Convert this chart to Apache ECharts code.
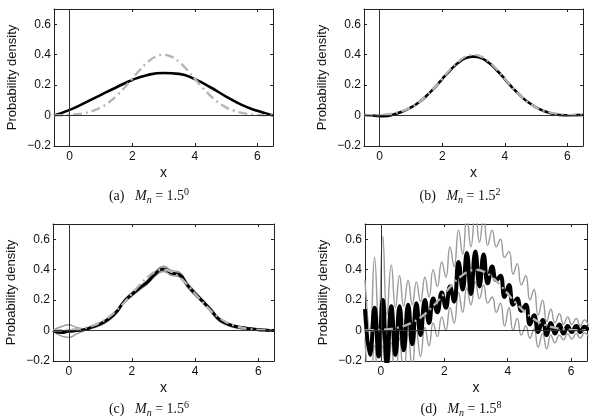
<!DOCTYPE html>
<html>
<head>
<meta charset="utf-8">
<script src="https://cdn.jsdelivr.net/npm/echarts@6/dist/echarts.min.js"></script>
<style>
  html, body { margin: 0; padding: 0; background: #fff; }
  #chart { width: 591px; height: 418px; }
</style>
</head>
<body>
<div id="chart"></div>
<script>
// tick labels
const xTicks = [0, 2, 4, 6];
const yTicks = [-0.2, 0, 0.2, 0.4, 0.6];

// x grids
const xCoarse = [-0.5, 0, 0.5, 1, 1.5, 2, 2.5, 3, 3.5, 4, 4.5, 5, 5.5, 6, 6.5];
const xFine = [-0.5, -0.25, 0, 0.25, 0.5, 0.75, 1, 1.25, 1.5, 1.75, 2, 2.25, 2.5, 2.75, 3,
  3.25, 3.5, 3.75, 4, 4.25, 4.5, 4.75, 5, 5.25, 5.5, 5.75, 6, 6.25, 6.5];
const xOsc = [-0.5, -0.34, -0.2, -0.07, 0.06, 0.19, 0.33, 0.46, 0.59, 0.72,
  0.86, 0.99, 1.12, 1.25, 1.39, 1.52, 1.65, 1.78, 1.92, 2.05,
  2.18, 2.31, 2.45, 2.58, 2.71, 2.84, 2.98, 3.11, 3.24, 3.37,
  3.51, 3.64, 3.77, 3.9, 4.04, 4.17, 4.3, 4.43, 4.57, 4.7,
  4.83, 4.96, 5.1, 5.23, 5.36, 5.49, 5.63, 5.76, 5.89, 6.02,
  6.16, 6.29, 6.42, 6.55];

// true density (gray dash-dot, on xFine)
const trueDensity = [0.0009, 0.002, 0.0044, 0.009, 0.0175, 0.032, 0.054, 0.086, 0.13, 0.183,
  0.242, 0.301, 0.352, 0.387, 0.399, 0.387, 0.352, 0.301, 0.242, 0.183,
  0.13, 0.086, 0.054, 0.032, 0.0175, 0.009, 0.0044, 0.002, 0.0009];

// (a) M_n = 1.5^0, on xCoarse
const aEstimate = [0, 0.037, 0.085, 0.136, 0.186, 0.234, 0.267, 0.28, 0.274, 0.239, 0.186, 0.125, 0.07, 0.031, 0];

// (b) M_n = 1.5^2, on xFine
const bEstimate = [0.004, 0.001, -0.004, -0.002, 0.01, 0.028, 0.053, 0.086, 0.13, 0.182,
  0.24, 0.296, 0.345, 0.377, 0.387, 0.377, 0.345, 0.296, 0.24, 0.182,
  0.13, 0.087, 0.054, 0.03, 0.013, 0.004, 0.002, 0.003, 0.004];

// (c) M_n = 1.5^6, on xFine
const cEstimate = [0, -0.013, -0.005, 0, 0.006, 0.024, 0.043, 0.074, 0.12, 0.19,
  0.238, 0.28, 0.32, 0.375, 0.405, 0.378, 0.368, 0.3, 0.243, 0.19,
  0.135, 0.075, 0.045, 0.028, 0.018, 0.012, 0.006, 0.002, 0];
const cUpper = [0.003, 0.025, 0.038, 0.02, 0.012, 0.032, 0.052, 0.084, 0.13, 0.2,
  0.25, 0.292, 0.333, 0.39, 0.422, 0.395, 0.384, 0.314, 0.256, 0.2,
  0.146, 0.085, 0.054, 0.036, 0.025, 0.018, 0.012, 0.007, 0.005];
const cLower = [-0.005, -0.035, -0.045, -0.022, 0, 0.016, 0.034, 0.064, 0.11, 0.18,
  0.226, 0.268, 0.307, 0.36, 0.388, 0.362, 0.352, 0.286, 0.23, 0.18,
  0.124, 0.065, 0.036, 0.02, 0.011, 0.006, 0, -0.003, -0.005];

// (d) M_n = 1.5^8, on xOsc
const dEstimate = [0.14, -0.16, 0.15, -0.17, 0.2, -0.22, 0.16, -0.16, 0.16, -0.13,
  0.17, -0.09, 0.18, -0.03, 0.2, 0.05, 0.21, 0.12, 0.25, 0.15,
  0.29, 0.19, 0.45, 0.27, 0.51, 0.24, 0.52, 0.29, 0.5, 0.31,
  0.42, 0.33, 0.36, 0.22, 0.3, 0.17, 0.21, 0.13, 0.17, 0.04,
  0.1, -0.01, 0.07, -0.03, 0.05, -0.02, 0.04, -0.02, 0.03, -0.01,
  0.03, -0.01, 0.025, 0];
const dUpper = [0.33, 0, 0.48, 0.02, 0.62, 0.1, 0.43, 0.15, 0.36, 0.16,
  0.33, 0.17, 0.32, 0.19, 0.35, 0.22, 0.4, 0.29, 0.45, 0.35,
  0.55, 0.42, 0.66, 0.5, 0.75, 0.55, 0.78, 0.58, 0.75, 0.56,
  0.66, 0.55, 0.6, 0.48, 0.52, 0.37, 0.44, 0.3, 0.36, 0.2,
  0.27, 0.1, 0.2, 0.06, 0.14, 0.05, 0.11, 0.04, 0.09, 0.04,
  0.08, 0.03, 0.07, 0.03];
const dLower = [-0.05, -0.4, -0.1, -0.45, -0.1, -0.5, -0.08, -0.38, -0.05, -0.3,
  -0.02, -0.25, 0, -0.17, 0.02, -0.1, 0.05, -0.04, 0.09, 0,
  0.15, 0.05, 0.25, 0.12, 0.28, 0.17, 0.32, 0.21, 0.3, 0.18,
  0.22, 0.12, 0.18, 0.03, 0.15, 0, 0.08, -0.03, 0.03, -0.05,
  0.01, -0.11, -0.02, -0.12, -0.03, -0.08, -0.03, -0.06, -0.02, -0.055,
  -0.02, -0.05, -0.015, -0.04];

const captions = ['(a)', '(b)', '(c)', '(d)'];
const exponents = ['0', '2', '6', '8'];

const zip = (xs, ys) => xs.map((x, i) => [x, ys[i]]);

const chart = echarts.init(document.getElementById('chart'));

const grids = [
  { left: 54, top: 9, width: 219, height: 137 },
  { left: 364, top: 9, width: 219, height: 137 },
  { left: 53, top: 224, width: 221, height: 137 },
  { left: 365, top: 224, width: 222, height: 137 }
];
const captionPos = [[149, 196], [460, 196], [149, 409], [461, 409]];

const sans = 'Liberation Sans';
const axisColor = '#222';

const xAxes = [];
const yAxes = [];
grids.forEach((g, i) => {
  ['bottom', 'top'].forEach((pos) => {
    xAxes.push({
      gridIndex: i,
      type: 'value',
      position: pos,
      min: -0.5,
      max: 6.5,
      axisLine: { onZero: false, lineStyle: { color: axisColor, width: 1 } },
      axisTick: { inside: true, length: 3, customValues: xTicks, lineStyle: { color: axisColor } },
      axisLabel: {
        show: pos === 'bottom',
        customValues: xTicks,
        margin: 5,
        fontSize: 12,
        fontFamily: sans,
        color: '#111'
      },
      splitLine: { show: false },
      name: pos === 'bottom' ? 'x' : '',
      nameLocation: 'middle',
      nameGap: 20,
      nameTextStyle: { fontSize: 14, fontFamily: sans, color: '#111' }
    });
  });
  ['left', 'right'].forEach((pos) => {
    yAxes.push({
      gridIndex: i,
      type: 'value',
      position: pos,
      min: -0.2,
      max: 0.7,
      axisLine: { onZero: false, lineStyle: { color: axisColor, width: 1 } },
      axisTick: { inside: true, length: 3, customValues: yTicks, lineStyle: { color: axisColor } },
      axisLabel: {
        show: pos === 'left',
        customValues: yTicks,
        margin: 3,
        fontSize: 12,
        fontFamily: sans,
        color: '#111',
        formatter: (v) => (Math.abs(v) < 1e-9 ? '0' : (v < 0 ? '\u2212' : '') + Math.abs(v).toFixed(1))
      },
      splitLine: { show: false },
      name: pos === 'left' ? 'Probability density' : '',
      nameLocation: 'middle',
      nameRotate: 90,
      nameGap: 35,
      nameTextStyle: { fontSize: 13, fontFamily: sans, color: '#111' }
    });
  });
});

const panelLines = [
  { est: zip(xCoarse, aEstimate), width: 2.6 },
  { est: zip(xFine, bEstimate), width: 2.6 },
  { est: zip(xFine, cEstimate), width: 3, up: zip(xFine, cUpper), lo: zip(xFine, cLower) },
  { est: zip(xOsc, dEstimate), width: 4, up: zip(xOsc, dUpper), lo: zip(xOsc, dLower) }
];

const series = [];
panelLines.forEach((p, i) => {
  const ax = { xAxisIndex: i * 2, yAxisIndex: i * 2 };
  // zero lines
  series.push(Object.assign({
    type: 'line',
    data: [],
    z: 1,
    silent: true,
    markLine: {
      silent: true,
      symbol: ['none', 'none'],
      label: { show: false },
      lineStyle: { color: '#333', width: 1, type: 'solid' },
      emphasis: { disabled: true },
      data: [{ yAxis: 0 }, { xAxis: 0 }]
    }
  }, ax));
  if (p.up) {
    [p.up, p.lo].forEach((d) => {
      series.push(Object.assign({
        type: 'line',
        data: d,
        showSymbol: false,
        smooth: 0.5,
        lineStyle: { color: '#9a9a9a', width: 1.4 },
        z: 2
      }, ax));
    });
  }
  series.push(Object.assign({
    type: 'line',
    data: p.est,
    showSymbol: false,
    smooth: 0.5,
    lineStyle: { color: '#000', width: p.width },
    z: 3
  }, ax));
  series.push(Object.assign({
    type: 'line',
    data: zip(xFine, trueDensity),
    showSymbol: false,
    smooth: 0.5,
    lineStyle: { color: '#b5b5b5', width: 2.4, type: [9, 4, 2, 4] },
    z: 4
  }, ax));
});

const graphic = captions.map((c, i) => ({
  type: 'text',
  x: captionPos[i][0],
  y: captionPos[i][1],
  style: {
    text: '{r|' + c + '}   {i|M}{s|n}{r| = 1.5}{p|' + exponents[i] + '}',
    align: 'center',
    verticalAlign: 'middle',
    fontFamily: 'Liberation Serif',
    fontSize: 14,
    lineHeight: 18,
    fill: '#111',
    rich: {
      r: { fontFamily: 'Liberation Serif', fontSize: 14, lineHeight: 18, fill: '#111' },
      i: { fontFamily: 'Liberation Serif', fontStyle: 'italic', fontSize: 14, lineHeight: 18, fill: '#111' },
      s: { fontFamily: 'Liberation Serif', fontStyle: 'italic', fontSize: 10, lineHeight: 10, verticalAlign: 'bottom', fill: '#111' },
      p: { fontFamily: 'Liberation Serif', fontSize: 10, lineHeight: 10, verticalAlign: 'top', fill: '#111' }
    }
  }
}));

chart.setOption({
  animation: false,
  backgroundColor: '#fff',
  grid: grids,
  xAxis: xAxes,
  yAxis: yAxes,
  series: series,
  graphic: graphic
});
</script>
</body>
</html>
